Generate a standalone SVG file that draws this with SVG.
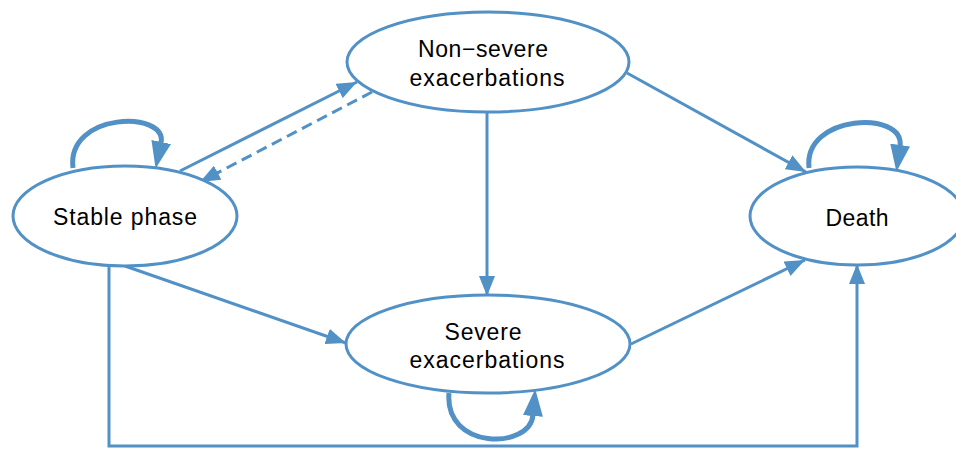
<svg xmlns="http://www.w3.org/2000/svg" width="956" height="449" viewBox="0 0 956 449">
<style>
.node{fill:#fff;stroke:#5291c6;stroke-width:3}
.lbl{font-family:"Liberation Sans",Arial,sans-serif;font-size:23px;fill:#000;text-anchor:middle}
.edge{fill:none;stroke:#5291c6;stroke-width:3}
.loop{fill:none;stroke:#5291c6;stroke-width:5}
</style>
<defs>
<marker id="ah" markerUnits="userSpaceOnUse" markerWidth="20" markerHeight="16" viewBox="0 0 20 16" refX="20" refY="8" orient="auto">
<path d="M0,0 L20,8 L0,16 Z" fill="#5291c6"/>
</marker>
<marker id="ahl" markerUnits="userSpaceOnUse" markerWidth="27" markerHeight="20" viewBox="0 0 27 20" refX="1" refY="10" orient="auto">
<path d="M0,0 L27,10 L0,20 Z" fill="#5291c6"/>
</marker>
</defs>
<g id="connectors">
<line class="edge" x1="180" y1="171" x2="357" y2="82" marker-end="url(#ah)"/>
<line class="edge" x1="372" y1="92" x2="200" y2="182" stroke-dasharray="11,6" marker-end="url(#ah)"/>
<line class="edge" x1="487" y1="113" x2="487" y2="296" marker-end="url(#ah)"/>
<line class="edge" x1="627" y1="73" x2="806" y2="172" marker-end="url(#ah)"/>
<line class="edge" x1="631" y1="344" x2="805" y2="260" marker-end="url(#ah)"/>
<line class="edge" x1="125" y1="266" x2="346" y2="343" marker-end="url(#ah)"/>
<polyline class="edge" points="109,265 109,446 857,446 857,264" marker-end="url(#ah)"/>
<path class="loop" d="M73,168 C66,112 168,110 161,143" marker-end="url(#ahl)"/>
<path class="loop" d="M809,168 C803,114 905,110 900,146" marker-end="url(#ahl)"/>
<path class="loop" d="M449,393 C444,450 530,450 533,415" marker-end="url(#ahl)"/>
</g>
<g id="stable">
<ellipse class="node" cx="125" cy="216" rx="112" ry="50"/>
<text class="lbl" x="125" y="225" textLength="144" lengthAdjust="spacing">Stable phase</text>
</g>
<g id="nonsevere">
<ellipse class="node" cx="488" cy="62" rx="141" ry="50"/>
<text class="lbl" x="483" y="57" textLength="130" lengthAdjust="spacing">Non−severe</text>
<text class="lbl" x="487" y="86" textLength="155" lengthAdjust="spacing">exacerbations</text>
</g>
<g id="severe">
<ellipse class="node" cx="488" cy="344" rx="142" ry="49"/>
<text class="lbl" x="483" y="340" textLength="77" lengthAdjust="spacing">Severe</text>
<text class="lbl" x="487" y="368" textLength="155" lengthAdjust="spacing">exacerbations</text>
</g>
<g id="death">
<ellipse class="node" cx="857" cy="216" rx="107" ry="49"/>
<text class="lbl" x="857" y="226" textLength="63" lengthAdjust="spacing">Death</text>
</g>
</svg>
